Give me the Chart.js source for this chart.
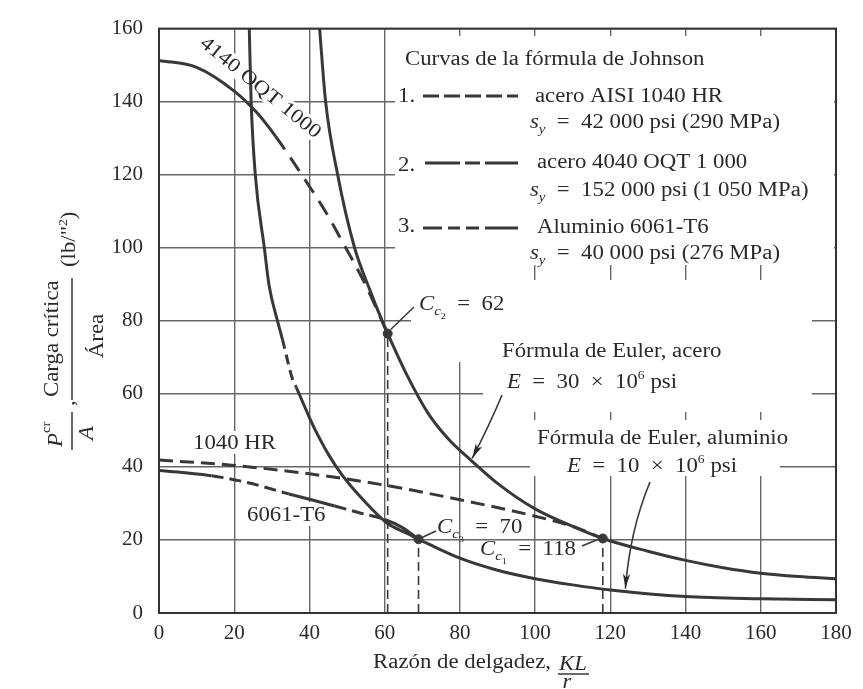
<!DOCTYPE html>
<html>
<head>
<meta charset="utf-8">
<script src="https://cdn.jsdelivr.net/npm/chart.js@4.4.0/dist/chart.umd.min.js"></script>
<style>
  html, body { margin: 0; padding: 0; background: #fff; }
  #wrap { width: 863px; height: 689px; }
</style>
</head>
<body>
<div id="wrap"><canvas id="chart" width="863" height="689"></canvas></div>
<script>
// Values (KL/r vs. P_cr/A in ksi)
const eulerSteelX = [42.7, 44.3, 47.5, 52, 56, 59, 60.8, 66, 71.6, 77, 83, 90, 100, 110, 118, 130, 140, 150, 160, 170, 180];
const eulerSteelY = [160, 140, 120, 100, 88.6, 80.8, 76.5, 65, 54.6, 47.6, 41.8, 35.5, 28.5, 23.7, 20.4, 16.9, 14.4, 12.4, 10.9, 10, 9.4];

const eulerAluX = [24, 24.5, 25.6, 28, 29.3, 31.5, 32.8, 35.5, 36.5, 40, 41.6, 45, 48.8, 55, 60.8, 66, 69, 71.6, 80, 90, 100, 110, 120, 140, 160, 180];
const eulerAluY = [160, 140, 120, 100, 89.5, 80, 75, 64, 61.8, 53.5, 50, 43.5, 37.6, 30.2, 24.5, 21.8, 20.2, 18.9, 15, 11.7, 9.4, 7.7, 6.3, 4.5, 3.9, 3.6];

const johnson4140X = [0, 10, 20, 26, 31, 37.3, 44.8, 48.3, 54.7, 60.8];
const johnson4140Y = [151.3, 149.4, 142.9, 137, 130.5, 121, 109, 102.5, 90.3, 76.5];

const johnson1040X = [0, 20, 40, 60, 80, 100, 110, 118];
const johnson1040Y = [41.9, 40.4, 38.1, 35, 31, 26.5, 23.7, 20.4];

const johnson6061X = [0, 7, 14, 24, 34.5, 40.5, 46.7, 53, 60, 64.5, 69];
const johnson6061Y = [39, 38.4, 37.6, 35.6, 32.6, 31, 29.3, 27.5, 25.6, 23.5, 20.2];

// tangency points C_c2 = 62, C_c3 = 70, C_c1 = 118
const ccX = [60.8, 69, 118];
const ccY = [76.5, 20.2, 20.4];

const SERIF = '"Liberation Serif", "Times New Roman", serif';
const INK = '#2a2a2a';
const LINE = '#383838';
const GRID = '#666';
const SX = 1.14;   // the book face is wider than Times

const pts = (xs, ys) => xs.map((x, i) => ({ x, y: ys[i] }));
const font = (size, it) => (it ? 'italic ' : '') + size + 'px ' + SERIF;

// dash only the segments whose midpoint falls in one of the ranges
function dashIn(ranges, pattern) {
  return c => {
    const m = (c.p0.parsed.x + c.p1.parsed.x) / 2;
    return ranges.some(([a, b]) => m > a && m < b) ? pattern : undefined;
  };
}

// text made of pieces: [text, size, italic, dy]
function runsWidth(ctx, parts) {
  let w = 0;
  parts.forEach(([t, size = 20, it = false]) => { ctx.font = font(size, it); w += ctx.measureText(t).width; });
  return w * SX;
}
function drawRuns(ctx, x, y, parts) {
  ctx.save();
  ctx.translate(x, y);
  ctx.scale(SX, 1);
  let cx = 0;
  parts.forEach(([t, size = 20, it = false, dy = 0]) => {
    ctx.font = font(size, it);
    ctx.fillText(t, cx, dy);
    cx += ctx.measureText(t).width;
  });
  ctx.restore();
}
const sy = rest => [['s', 20, true], ['y', 13, true, 5], [rest]];
const cc = (n, rest) => [['C', 20, true], ['c', 13, true, 5], [n, 9, false, 9], [rest]];
const eMod = n => [['E', 20, true], ['  =  ' + n + '  \u00d7  10'], ['6', 12, false, -9], [' psi']];

function line(ctx, x0, y0, x1, y1, w, dash) {
  ctx.save();
  ctx.lineWidth = w;
  ctx.setLineDash(dash || []);
  ctx.beginPath(); ctx.moveTo(x0, y0); ctx.lineTo(x1, y1); ctx.stroke();
  ctx.restore();
}
function arrow(ctx, x0, y0, cx, cy, x1, y1) {
  ctx.save();
  ctx.lineWidth = 1.6;
  ctx.beginPath(); ctx.moveTo(x0, y0); ctx.quadraticCurveTo(cx, cy, x1, y1); ctx.stroke();
  const a = Math.atan2(y1 - cy, x1 - cx);
  ctx.translate(x1, y1); ctx.rotate(a);
  ctx.beginPath(); ctx.moveTo(0, 0); ctx.lineTo(-15, -3.6); ctx.lineTo(-11, 0); ctx.lineTo(-15, 3.6); ctx.closePath();
  ctx.fill();
  ctx.restore();
}

// rectangles where the printed grid is interrupted by lettering
const gridGaps = [
  [395, 36, 834, 265],
  [411, 262, 483, 362],
  [483, 280, 812, 412],
  [530, 420, 780, 476],
  [190, 431, 278, 454],
  [244, 502, 330, 526]
];
const label4140 = { text: '4140 OQT 1000', x: 257, y: 92, angle: 39 };

const paper = {
  id: 'paper',
  beforeDraw(chart) {
    const ctx = chart.ctx;
    ctx.save(); ctx.fillStyle = '#fff'; ctx.fillRect(0, 0, chart.width, chart.height); ctx.restore();
  },
  beforeDatasetsDraw(chart) {
    const ctx = chart.ctx;
    ctx.save();
    ctx.fillStyle = '#fff';
    gridGaps.forEach(([x0, y0, x1, y1]) => ctx.fillRect(x0, y0, x1 - x0, y1 - y0));
    ctx.translate(label4140.x, label4140.y);
    ctx.rotate(label4140.angle * Math.PI / 180);
    const w = runsWidth(ctx, [[label4140.text]]);
    ctx.fillRect(-w / 2 - 3, -16, w + 6, 20);
    ctx.restore();
  },
  afterDatasetsDraw(chart) {
    const ctx = chart.ctx;
    const { left, top, right, bottom } = chart.chartArea;
    const xs = chart.scales.x, ys = chart.scales.y;
    const P = (x, y) => [xs.getPixelForValue(x), ys.getPixelForValue(y)];

    ctx.save();
    ctx.strokeStyle = '#333';
    ctx.lineWidth = 2;
    ctx.strokeRect(left, top, right - left, bottom - top);

    ctx.fillStyle = INK;
    ctx.strokeStyle = LINE;
    ctx.textBaseline = 'alphabetic';

    // Johnson legend
    drawRuns(ctx, 405, 65, [['Curvas de la f\u00f3rmula de Johnson']]);
    drawRuns(ctx, 398, 102, [['1.']]);
    drawRuns(ctx, 398, 171, [['2.']]);
    drawRuns(ctx, 398, 232, [['3.']]);
    line(ctx, 423, 96, 518, 96, 3, [16, 5]);
    [[425, 460], [465, 480], [485, 518]].forEach(([a, b]) => line(ctx, a, 163, b, 163, 3));
    [[423, 442], [448, 460], [466, 479], [485, 518]].forEach(([a, b]) => line(ctx, a, 228, b, 228, 3));
    drawRuns(ctx, 535, 102, [['acero AISI 1040 HR']]);
    drawRuns(ctx, 530, 128, sy('  =  42 000 psi (290 MPa)'));
    drawRuns(ctx, 537, 168, [['acero 4040 OQT 1 000']]);
    drawRuns(ctx, 530, 196, sy('  =  152 000 psi (1 050 MPa)'));
    drawRuns(ctx, 537, 233, [['Aluminio 6061-T6']]);
    drawRuns(ctx, 530, 259, sy('  =  40 000 psi (276 MPa)'));

    // curve notes
    drawRuns(ctx, 419, 310, cc('2', '  =  62'));
    drawRuns(ctx, 502, 357, [['F\u00f3rmula de Euler, acero']]);
    drawRuns(ctx, 507, 388, eMod('30'));
    drawRuns(ctx, 537, 444, [['F\u00f3rmula de Euler, aluminio']]);
    drawRuns(ctx, 567, 472, eMod('10'));
    drawRuns(ctx, 437, 533, cc('3', '  =  70'));
    drawRuns(ctx, 480, 555, cc('1', '  =  118'));
    drawRuns(ctx, 193, 449, [['1040 HR']]);
    drawRuns(ctx, 247, 521, [['6061-T6']]);

    ctx.save();
    ctx.translate(label4140.x, label4140.y);
    ctx.rotate(label4140.angle * Math.PI / 180);
    const w = runsWidth(ctx, [[label4140.text]]);
    drawRuns(ctx, -w / 2, 0, [[label4140.text]]);
    ctx.restore();

    // leaders and arrows
    const [c2x, c2y] = P(ccX[0], ccY[0]);
    const [c3x, c3y] = P(ccX[1], ccY[1]);
    const [c1x, c1y] = P(ccX[2], ccY[2]);
    line(ctx, c2x + 3, c2y - 4, 414, 307, 1.5);
    line(ctx, c3x + 4, c3y - 2, 436, 531, 1.5);
    line(ctx, 582, 546, c1x - 5, c1y + 1, 1.5);
    const [sx, sy2] = P(83, 41.8);
    arrow(ctx, 502, 395, 490, 424, sx + 1, sy2 - 2);
    const [ax, ay] = P(124, 6.4);
    arrow(ctx, 650, 482, 630, 530, ax, ay - 1);

    // axis titles
    const rz = runsWidth(ctx, [['Raz\u00f3n de delgadez,']]);
    drawRuns(ctx, 551 - rz, 668, [['Raz\u00f3n de delgadez,']]);
    const kl = runsWidth(ctx, [['KL', 20, true]]);
    drawRuns(ctx, 573 - kl / 2, 670, [['KL', 20, true]]);
    line(ctx, 558, 674, 589, 674, 1.5);
    const rw = runsWidth(ctx, [['r', 20, true]]);
    drawRuns(ctx, 567 - rw / 2, 688, [['r', 20, true]]);

    ctx.save();
    ctx.translate(72, 0);
    ctx.rotate(-Math.PI / 2);
    // local u = -screen y, v = screen x - 72
    drawRuns(ctx, -447, -10, [['P', 20, true], ['cr', 13, false, -12]]);
    line(ctx, -450, 0, -412, 0, 1.5);
    const aw = runsWidth(ctx, [['A', 20, true]]);
    drawRuns(ctx, -433 - aw / 2, 21, [['A', 20, true]]);
    drawRuns(ctx, -406, 2, [[',']]);
    drawRuns(ctx, -397, -14, [['Carga cr\u00edtica']]);
    line(ctx, -400, 0, -278, 0, 1.5);
    const arw = runsWidth(ctx, [['\u00c1rea']]);
    drawRuns(ctx, -336 - arw / 2, 31, [['\u00c1rea']]);
    drawRuns(ctx, -267, 3, [['(lb/"'], ['2', 12, false, -8], [')']]);
    ctx.restore();

    ctx.restore();
  }
};

const curve = { showLine: true, pointRadius: 0, borderColor: LINE, borderWidth: 3, cubicInterpolationMode: 'monotone', fill: false };
const guide = { showLine: true, pointRadius: 0, borderColor: LINE, borderWidth: 1.6, borderDash: [9, 5], tension: 0 };

const datasets = [
  { ...guide, label: 'Cc2', data: [{ x: ccX[0], y: 0 }, { x: ccX[0], y: ccY[0] }] },
  { ...guide, label: 'Cc3', data: [{ x: ccX[1], y: 0 }, { x: ccX[1], y: ccY[1] }] },
  { ...guide, label: 'Cc1', data: [{ x: ccX[2], y: 0 }, { x: ccX[2], y: ccY[2] }] },
  { ...curve, label: 'Euler acero', data: pts(eulerSteelX, eulerSteelY) },
  { ...curve, label: 'Euler aluminio', data: pts(eulerAluX, eulerAluY),
    segment: { borderDash: dashIn([[32.8, 36.5]], [10, 6]) } },
  { ...curve, label: '4140 OQT 1000', data: pts(johnson4140X, johnson4140Y),
    segment: { borderDash: dashIn([[31, 61]], [16, 10]) } },
  { ...curve, label: '1040 HR', data: pts(johnson1040X, johnson1040Y), borderDash: [14, 7] },
  { ...curve, label: '6061-T6', data: pts(johnson6061X, johnson6061Y),
    segment: { borderDash: dashIn([[14, 34.5], [46.7, 60]], [12, 6]) } },
  { label: 'Cc', data: pts(ccX, ccY), showLine: false, pointRadius: 4.5,
    pointBackgroundColor: LINE, pointBorderColor: LINE }
];

new Chart(document.getElementById('chart'), {
  type: 'scatter',
  data: { datasets },
  options: {
    responsive: false,
    animation: false,
    devicePixelRatio: 1,
    layout: { padding: { top: 18, right: 27, left: 0, bottom: 0 } },
    plugins: { legend: { display: false }, tooltip: { enabled: false } },
    scales: {
      x: {
        type: 'linear', min: 0, max: 180,
        ticks: { stepSize: 20, color: INK, padding: 8, maxRotation: 0, font: { family: SERIF, size: 21 } },
        grid: { color: GRID, lineWidth: 1.4, drawTicks: false },
        border: { display: false },
        afterFit: s => { s.height = 76; }
      },
      y: {
        type: 'linear', min: 0, max: 160,
        ticks: { stepSize: 20, color: INK, padding: 16, font: { family: SERIF, size: 21 } },
        grid: { color: GRID, lineWidth: 1.4, drawTicks: false },
        border: { display: false },
        afterFit: s => { s.height = undefined; s.width = 159; }
      }
    }
  },
  plugins: [paper]
});
</script>
</body>
</html>
